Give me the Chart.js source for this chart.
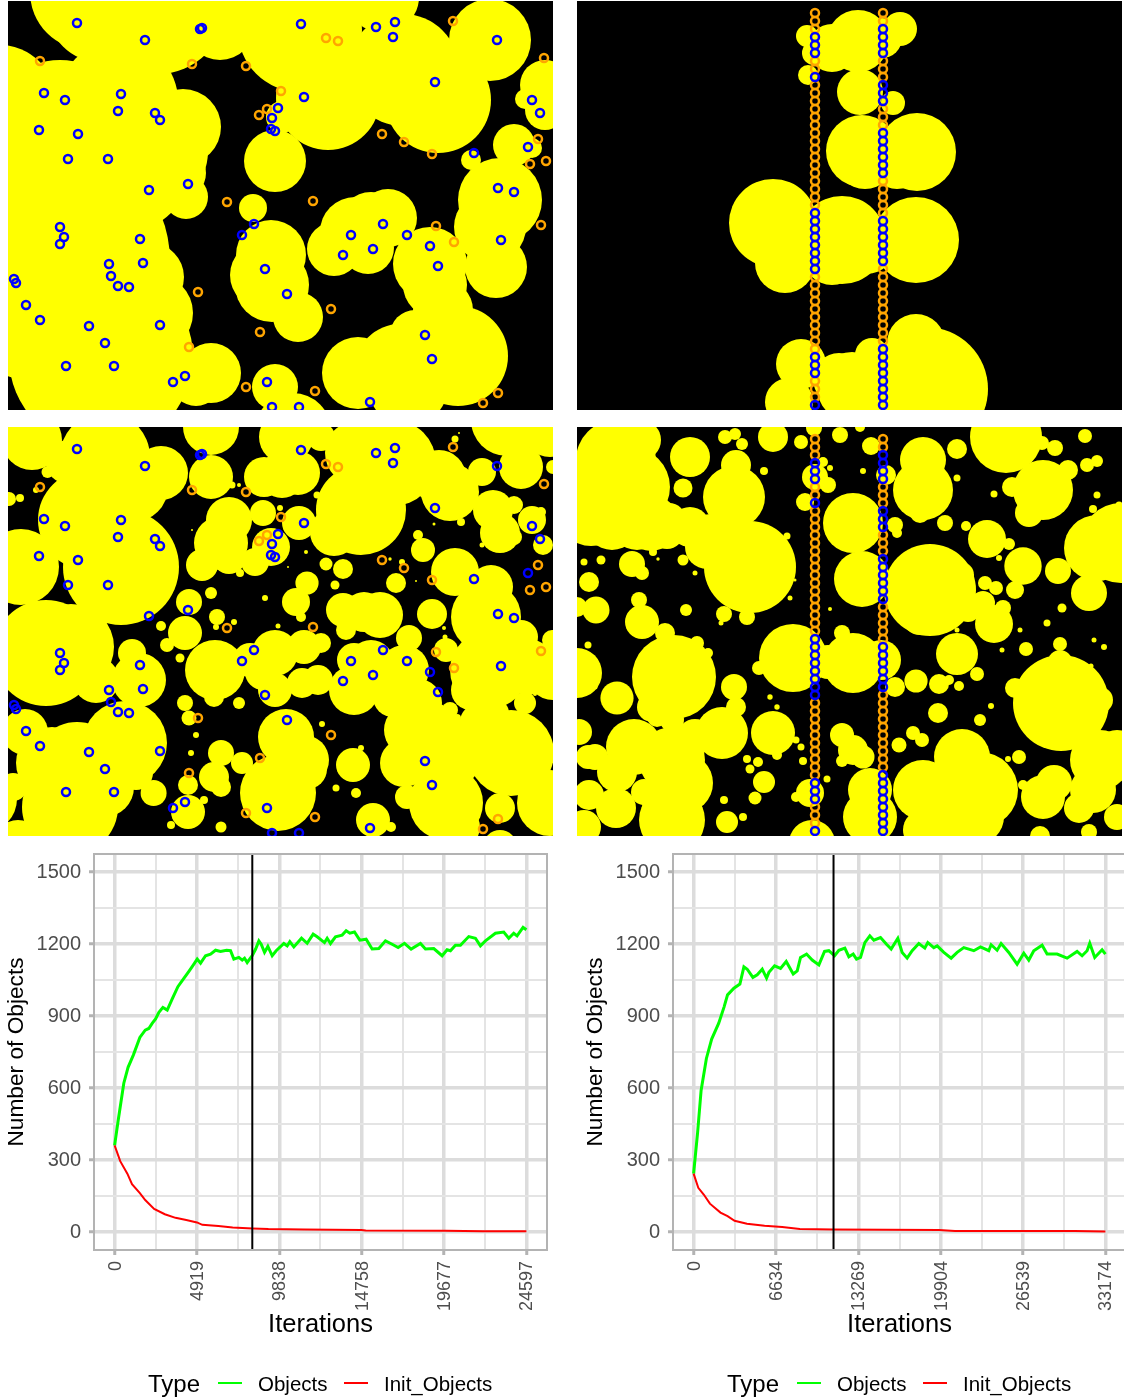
<!DOCTYPE html>
<html>
<head>
<meta charset="utf-8">
<script src="https://cdn.jsdelivr.net/npm/chart.js@4"></script>
<style>
html, body { margin: 0; padding: 0; background: #fff; overflow: hidden; width: 1124px; height: 1400px; }
canvas { position: absolute; display: block; }
.leg { position: absolute; font-family: "Liberation Sans", Arial, sans-serif; color: #000; line-height: 1; white-space: nowrap; }
.key { position: absolute; height: 2px; }
</style>
</head>
<body>
<canvas id="mapA" width="545" height="409" style="left:8px;top:1px;background:#000"></canvas>
<canvas id="mapB" width="545" height="409" style="left:577px;top:1px;background:#000"></canvas>
<canvas id="mapC" width="545" height="409" style="left:8px;top:427px;background:#000"></canvas>
<canvas id="mapD" width="545" height="409" style="left:577px;top:427px;background:#000"></canvas>
<canvas id="lineLeft" width="560" height="555" style="left:0;top:845px"></canvas>
<canvas id="lineRight" width="560" height="555" style="left:579px;top:845px"></canvas>
<div id="legends"></div>
<script>
// rings, [x, y] in map units
const ringsBlueRandom = [[69,22],[137,39],[194,27],[192,28],[293,23],[368,26],[387,21],[385,36],[489,39],[427,81],[36,92],[57,99],[113,93],[110,110],[147,112],[152,119],[31,129],[70,133],[60,158],[100,158],[141,189],[180,183],[296,96],[270,107],[264,117],[263,128],[267,130],[524,99],[532,112],[520,146],[466,152],[490,187],[506,191],[52,226],[56,236],[52,243],[132,238],[101,263],[135,262],[103,275],[110,285],[121,286],[6,278],[8,282],[18,304],[32,319],[81,325],[97,342],[152,324],[58,365],[106,365],[177,375],[165,381],[259,381],[264,406],[291,406],[246,223],[234,234],[257,268],[279,293],[343,234],[375,223],[335,254],[365,248],[399,234],[422,245],[430,265],[493,239],[417,334],[424,358],[362,401]];
const ringsOrangeRandom = [[32,60],[184,63],[238,65],[318,37],[330,40],[445,20],[536,57],[273,90],[259,108],[251,114],[374,133],[396,141],[424,153],[530,138],[522,163],[538,160],[219,201],[305,200],[428,225],[533,224],[446,241],[190,291],[323,308],[252,331],[181,346],[238,386],[307,390],[490,392],[475,402]];

// the two columns of rings, y in map units
const columnX = [238, 306];
const col1Blue = [36,44,52,76,212,220,228,236,244,252,260,268,356,364,372,404];
const col1Orange = [12,20,28,60,68,84,92,100,108,116,124,132,140,148,156,164,172,180,188,196,204,276,284,292,300,308,316,324,332,340,348,380,388,396];
const col2Blue = [28,36,44,52,84,92,100,132,140,148,156,164,172,220,228,236,244,252,260,348,356,364,372,380,388,396,404];
const col2Orange = [12,20,60,68,76,108,116,124,180,188,196,204,212,268,276,284,292,300,308,316,324,332,340];

// yellow discs, [x, y, r]
const discsA = [[80,-9,58],[92,9,52],[150,5,68],[212,24,35],[292,17,38],[292,29,62],[320,97,52],[430,99,53],[395,69,56],[375,-4,36],[388,49,26],[482,39,41],[-8,99,55],[52,129,70],[175,126,38],[110,100,60],[140,150,60],[120,170,60],[172,172,26],[178,196,22],[60,180,95],[40,260,122],[135,262,28],[142,276,34],[146,312,39],[140,335,30],[93,356,92],[203,372,30],[188,380,25],[267,160,31],[274,116,16],[245,207,14],[263,254,35],[256,274,34],[264,284,37],[290,316,25],[326,248,27],[347,231,35],[363,222,31],[380,217,29],[360,247,26],[422,263,37],[427,284,32],[435,309,30],[450,355,50],[350,372,36],[392,368,45],[407,334,25],[400,385,40],[537,84,25],[517,98,10],[537,109,20],[506,144,21],[524,147,10],[492,199,42],[463,159,10],[488,266,31],[482,226,36],[267,386,23],[285,430,38]];
const discsB = [[281,40,31],[230,35,11],[237,52,12],[255,47,24],[323,28,17],[305,37,20],[231,74,10],[283,91,23],[316,102,12],[285,150,36],[288,158,30],[340,151,39],[320,162,26],[196,222,44],[208,262,30],[265,239,44],[255,255,29],[290,245,28],[339,239,43],[339,342,29],[349,388,62],[224,363,25],[212,401,24],[275,386,35],[295,354,17],[262,378,26]];
const discsC = [[24,13,30],[39.5,45,6],[12,71,4],[28,63,3],[1,72,7],[97,30,45],[80,93,50],[113,140,58],[13,140,38],[38,226,53],[63,220,43],[131,253,27],[124,226,14],[88,253,23],[117,316,42],[69,340,45],[44,336,36],[17,305,23],[-24,372,33],[62,380,48],[10,418,25],[145.6,366,13],[128,346,17],[153,46,27],[203,0,28],[203,50,22],[221,93,23],[213,116,27],[194,138,16],[221,130,17],[255,86,13],[291,96,17],[263,120,19],[247,135,14],[274,48,23],[256,50,20],[290,46,22],[278,10,27],[353,83,45],[326,105,24],[385,36,43],[349,26,32],[313,10,14],[442,65,29],[431,50,27],[513,40,22],[474,45,14],[499,-7,36],[542,3,27],[524,93,14],[535,118,10],[485,83,20],[492,106,20],[506,78,9],[506,110,8],[415,123,12],[410,108,5],[447,145,24],[478,190,35],[483,160,22],[513,210,17],[481,243,39],[438,223,12],[545,246,27],[544,213,10],[463,263,20],[442,283,8],[449,291,4],[467,283,5],[488,286,13],[517,276,11],[503,326,43],[403,303,27],[396,336,24],[438,326,37],[438,376,37],[399,370,12],[492,381,15],[542,376,33],[452,400,20],[492,420,17],[181,175,13],[203,166,6],[177,206,17],[159,218,7],[153,199,5],[172,231,4.5],[209,190,8],[226,195,3],[208,200,3],[232,146,4],[257,171,3],[270,199,2.5],[207,243,30],[206,270,10],[231,276,6],[177,276,8],[181,291,7.5],[188,308,3],[183,326,3],[267,226,23],[296,220,17],[313,216,10],[242,233,17],[267,263,17],[294,256,15],[310,253,15],[255,245,18],[299,156,11.6],[288,175,14],[293,190,5],[318,137,6.5],[335,142,10],[327,158,4.5],[335,183,17],[338,203,10],[372,188,23],[356,185,20],[388,156,10],[401,211,13],[424,187,15],[363,236,23],[346,233,17],[396,243,25],[346,263,25],[385,270,20],[410,276,24],[278,310,28],[296,333,25],[345,338,17],[270,366,38],[299,342,20],[213,326,13],[234,336,11],[206,350,15],[213,360,10],[180,358,10],[180,385,17],[196,373,4],[163,398,4],[213,400,5.5],[314,297,3],[328,361,3.5],[348,366,5],[365,393,17],[383,400,5],[353,321,3],[447,12,3.5],[451,6,1],[231,58,2],[224,58,3.5],[309,68,3.5],[272,81,3],[426,97,1.5],[453,95,4],[474,118,2.5],[382,132,1.7],[394,135,3],[298,125,2],[280,140,1],[184,103,1],[408,154,1],[436,201,2],[437,210,2.5],[527,267,2],[545,40,7],[533,85,5],[125,60,35],[60,35,22],[96,360,30],[5,360,14],[520,240,28],[470,295,18],[425,300,24]];
const discsD = [[113,30,20],[106,61,9.5],[39,33,40],[28,70,45],[64,13,20],[53,40,20],[53,60,40],[74,96,28],[92,93,17],[14,86,33],[60,95,28],[35,95,28],[90,105,17],[159,38,15],[157,70,31],[113,100,20],[134,110,23],[130,120,22],[173,140,46],[148,10,7],[158,7,6],[165,17,6],[196,10,15],[224,15,7],[237,1,8],[263,8,8],[283,0,5],[238,50,13],[251,58,8],[228,75,9],[246,35,5],[253,41,3],[187,44,4],[79,40,3],[276,96,30],[285,152,28],[294,19,9],[286,44,3],[309,48,10],[318,98,8],[320,106,5],[346,33,23],[346,63,30],[380,22,10],[368,96,8],[343,86,10],[429,10,36],[380,51,3.5],[389,99,5],[410,112,19],[432,117,6],[422,131,3],[446,139,18.7],[438,163,9],[481,144,13],[512,166,18],[520,121,33],[544,116,40],[466,63,30],[435,60,10],[452,86,14],[491,43,10],[510,38,7],[520,34,6],[508,9,7],[478,21,8],[465,16,7],[417,67,3.5],[516,82,4],[520,68,3.5],[353,163,46],[384,148,13],[391,183,12],[417,197,19],[406,176,12],[419,161,7],[426,181,8],[408,156,7],[343,190,18],[380,227,21],[339,254,11.6],[362,257,10],[372,253,5],[382,259,5],[400,247,7],[361,286,10],[403,293,6],[414,279,3],[449,222,7],[425,223,2.5],[443,203,2.5],[380,203,2.5],[483,217,7],[470,196,3.5],[485,181,4.5],[517,213,2.5],[527,220,3],[514,239,2.5],[542,78,3.5],[484,276,48],[483,235,12],[438,261,10],[523,273,13],[523,333,30],[540,326,23],[516,363,23],[466,370,22],[477,356,18],[502,381,15],[540,390,13],[512,405,8],[463,409,10],[442,330,7],[431,332,3],[446,358,5],[385,330,28],[346,363,30],[403,363,38],[368,376,37],[400,390,27],[293,363,22],[293,390,27],[346,403,20],[322,318,7.5],[336,306,7],[345,313,7],[265,308,12],[276,323,15],[286,330,11.5],[265,334,6],[250,352,3.5],[216,231,34],[276,236,30],[265,206,8],[304,233,20],[318,260,10],[251,235,17],[182,241,7],[233,366,14],[219,370,5],[97,250,42],[65,195,17],[62,173,8],[88,206,10],[120,216,7],[131,226,5],[40,271,16.6],[0,246,25],[11,218,3.5],[18,260,2.5],[12,155,10],[19,183,13.5],[0,180,10],[7,135,3.5],[24,133,4.5],[55,137,13],[65,146,7],[76,125,4],[106,133,5.5],[109,183,6],[147,187,8],[170,190,8],[144,196,2.5],[118,146,2.5],[81,132,1.7],[213,171,2.5],[210,109,3.5],[253,182,2],[218,153,1.5],[145,306,26],[57,320,28],[95,333,33],[75,280,15],[95,293,12],[80,290,10],[118,310,18],[18,330,13],[106,356,30],[92,376,27],[39,381,20],[12,368,15],[67,365,13],[95,393,33],[7,400,17],[40,345,20],[150,395,11],[166,390,4],[147,373,4],[122,380,2.7],[2,305,13],[11,330,12],[157,260,13],[159,280,10],[196,306,22],[219,313,3.5],[224,320,3.5],[200,328,5],[226,334,4],[170,332,4],[181,335,5],[173,342,4.5],[187,355,11],[178,371,6.5],[235,416,23],[193,270,2.7],[200,280,2.7]];

// line charts
const yMajor = [0, 300, 600, 900, 1200, 1500];
const yMinor = [150, 450, 750, 1050, 1350];
const leftMajor = [0, 4919, 9838, 14758, 19677, 24597];
const leftMinor = [2460, 7379, 12298, 17218, 22137];
const rightMajor = [0, 6634, 13269, 19904, 26539, 33174];
const rightMinor = [3317, 9952, 16587, 23222, 29857];
const leftMarker = 8225;
const rightMarker = 11273;

const leftObjectsX = [0,229,550,805,1125,1509,1829,2042,2255,2448,2647,2886,3144,3443,3781,4040,4438,4736,4935,5134,5433,5731,6030,6328,6686,6925,7124,7423,7622,7761,7920,8219,8418,8617,8756,8955,9154,9413,9651,10109,10308,10467,10706,11164,11502,11860,12099,12537,12696,12895,13194,13592,13831,14049,14328,14646,15024,15383,15781,16179,16577,16935,17313,17711,18268,18567,19064,19562,19860,20059,20358,20656,21154,21552,21850,22149,22746,23243,23542,23840,24039,24397,24597];
const leftObjectsY = [361,472,620,686,738,811,841,848,870,888,915,936,925,971,1022,1047,1086,1116,1137,1120,1151,1158,1174,1169,1174,1172,1137,1144,1133,1141,1123,1151,1178,1213,1199,1165,1190,1151,1172,1202,1192,1210,1188,1224,1203,1241,1230,1206,1224,1202,1230,1237,1255,1245,1250,1216,1220,1179,1181,1213,1199,1185,1203,1179,1202,1179,1181,1151,1176,1172,1195,1195,1231,1224,1192,1213,1245,1250,1224,1245,1234,1269,1259];
const leftInitX = [0,336,763,1040,1509,1829,2362,3001,3641,4280,4920,5240,6200,7052,8225,9184,11316,14727,15000,19763,22000,24597];
const leftInitY = [361,295,243,199,162,133,96,74,59,50,40,30,25,19,15,12,10,8,6,5,3,3];

const rightObjectsX = [0,321,605,1031,1457,2025,2451,2735,3247,3730,4053,4321,4777,5126,5529,5878,6066,6522,7005,7461,8025,8347,8615,9099,9555,10092,10548,10897,11353,11702,12185,12507,12856,13124,13447,13795,14198,14520,15057,15540,15916,16452,16802,17204,17607,18144,18627,18868,19351,19620,20157,20747,21231,21767,22572,23109,23780,23968,24451,24773,25390,26061,26599,27001,27404,28074,28477,29282,30087,30893,31295,31698,31913,32315,32906,33174];
const rightObjectsY = [243,413,590,723,804,870,937,988,1016,1033,1105,1095,1061,1072,1095,1058,1082,1109,1098,1127,1075,1088,1144,1158,1133,1113,1169,1172,1151,1174,1183,1147,1158,1137,1144,1206,1234,1216,1227,1199,1179,1224,1165,1141,1172,1202,1183,1206,1185,1192,1165,1141,1165,1185,1172,1188,1172,1197,1174,1202,1165,1116,1162,1133,1172,1195,1158,1158,1141,1169,1151,1172,1203,1144,1176,1158];
const rightInitX = [0,378,833,1315,2167,2735,3303,4297,5717,7137,8557,11255,19775,21053,30709,33174];
const rightInitY = [243,184,155,118,81,66,47,34,26,21,13,10,8,4,4,2];

const seriesNames = ["Objects", "Init_Objects"];
const seriesColors = ["#00ff00", "#ff0000"];

Chart.defaults.font.family = '"Liberation Sans", Arial, sans-serif';

const asDiscs = rows => rows.map(([x, y, r]) => ({x, y, r}));
const asRings = rows => rows.map(([x, y]) => ({x, y}));
const onColumn = (x, ys) => ys.map(y => ({x, y}));

function drawMap(id, discs, blue, orange) {
  new Chart(document.getElementById(id), {
    type: "bubble",
    data: {
      datasets: [
        { data: blue, backgroundColor: "transparent", borderColor: "#0000ff", borderWidth: 2.5, radius: 4 },
        { data: orange, backgroundColor: "transparent", borderColor: "#ffa500", borderWidth: 2.5, radius: 4 },
        { data: asDiscs(discs), backgroundColor: "#ffff00", borderWidth: 0 },
      ],
    },
    options: {
      responsive: false,
      animation: false,
      events: [],
      layout: { padding: 0, autoPadding: false },
      plugins: { legend: { display: false }, tooltip: { enabled: false } },
      scales: {
        x: { type: "linear", min: 0, max: 545, display: false },
        y: { type: "linear", min: 0, max: 409, reverse: true, display: false },
      },
    },
  });
}

const columnsBlue = onColumn(columnX[0], col1Blue).concat(onColumn(columnX[1], col2Blue));
const columnsOrange = onColumn(columnX[0], col1Orange).concat(onColumn(columnX[1], col2Orange));
drawMap("mapA", discsA, asRings(ringsBlueRandom), asRings(ringsOrangeRandom));
drawMap("mapB", discsB, columnsBlue, columnsOrange);
drawMap("mapC", discsC, asRings(ringsBlueRandom), asRings(ringsOrangeRandom));
drawMap("mapD", discsD, columnsBlue, columnsOrange);

const panelBorder = {
  id: "panelBorder",
  afterDraw(chart) {
    const a = chart.chartArea, c = chart.ctx;
    c.save();
    c.strokeStyle = "#b3b3b3";
    c.lineWidth = 2;
    c.strokeRect(a.left, a.top, a.right - a.left, a.bottom - a.top);
    c.restore();
  },
};

function axisStyle(major) {
  const isMajor = ctx => major.includes(ctx.tick.value);
  return {
    color: ctx => isMajor(ctx) ? "#dcdcdc" : "#e4e4e4",
    lineWidth: ctx => isMajor(ctx) ? 3.5 : 2,
    tickColor: ctx => isMajor(ctx) ? "#b3b3b3" : "transparent",
    tickWidth: 3,
    tickLength: 5,
  };
}

function drawLines(id, major, minor, xMin, xMax, marker, objX, objY, initX, initY) {
  const toPoints = (xs, ys) => xs.map((x, i) => ({x, y: ys[i]}));
  new Chart(document.getElementById(id), {
    type: "line",
    plugins: [panelBorder],
    data: {
      datasets: [
        { data: [{x: marker, y: -75}, {x: marker, y: 1575}], borderColor: "#000", borderWidth: 2 },
        { label: seriesNames[1], data: toPoints(initX, initY), borderColor: seriesColors[1], borderWidth: 2 },
        { label: seriesNames[0], data: toPoints(objX, objY), borderColor: seriesColors[0], borderWidth: 3 },
      ],
    },
    options: {
      responsive: false,
      animation: false,
      events: [],
      layout: { padding: { top: 9, right: 13, bottom: 60, left: 0 }, autoPadding: false },
      elements: { point: { radius: 0 }, line: { tension: 0 } },
      plugins: { legend: { display: false }, tooltip: { enabled: false } },
      scales: {
        x: {
          type: "linear", min: xMin, max: xMax,
          afterBuildTicks: s => { s.ticks = major.concat(minor).map(value => ({value})); },
          afterFit: s => { s.height = 90; s.paddingLeft = 0; s.paddingRight = 0; },
          grid: axisStyle(major),
          border: { display: false },
          ticks: {
            autoSkip: false, minRotation: 90, maxRotation: 90, padding: 6, labelOffset: 1,
            color: "#4d4d4d", font: { size: 18 },
            callback: v => major.includes(v) ? String(v) : "",
          },
          title: { display: true, text: "Iterations", color: "#000", font: { size: 25.5 }, padding: 0 },
        },
        y: {
          type: "linear", min: -75, max: 1575,
          afterBuildTicks: s => { s.ticks = yMajor.concat(yMinor).map(value => ({value})); },
          afterFit: s => { s.width = 94; s.paddingTop = 0; s.paddingBottom = 0; },
          grid: axisStyle(yMajor),
          border: { display: false },
          ticks: {
            autoSkip: false, padding: 8,
            color: "#4d4d4d", font: { size: 20 },
            callback: v => yMajor.includes(v) ? String(v) : "",
          },
          title: { display: true, text: "Number of Objects", color: "#000", font: { size: 22.7 }, padding: { top: 3, bottom: 0 } },
        },
      },
    },
  });
}

drawLines("lineLeft", leftMajor, leftMinor, -1230, 25827, leftMarker, leftObjectsX, leftObjectsY, leftInitX, leftInitY);
drawLines("lineRight", rightMajor, rightMinor, -1659, 34833, rightMarker, rightObjectsX, rightObjectsY, rightInitX, rightInitY);

// legends under the two line charts
function addLegend(dx) {
  const box = document.getElementById("legends");
  const text = (s, x, size) => {
    const d = document.createElement("div");
    d.className = "leg";
    d.textContent = s;
    d.style.left = (x + dx) + "px";
    d.style.top = (1384 - size / 2) + "px";
    d.style.fontSize = size + "px";
    box.appendChild(d);
  };
  const key = (x, col) => {
    const d = document.createElement("div");
    d.className = "key";
    d.style.left = (x + dx) + "px";
    d.style.top = "1382px";
    d.style.width = "24px";
    d.style.background = col;
    box.appendChild(d);
  };
  text("Type", 148, 24);
  key(218, seriesColors[0]);
  text(seriesNames[0], 258, 20.5);
  key(344, seriesColors[1]);
  text(seriesNames[1], 384, 20.5);
}
addLegend(0);
addLegend(579);
</script>
</body>
</html>
